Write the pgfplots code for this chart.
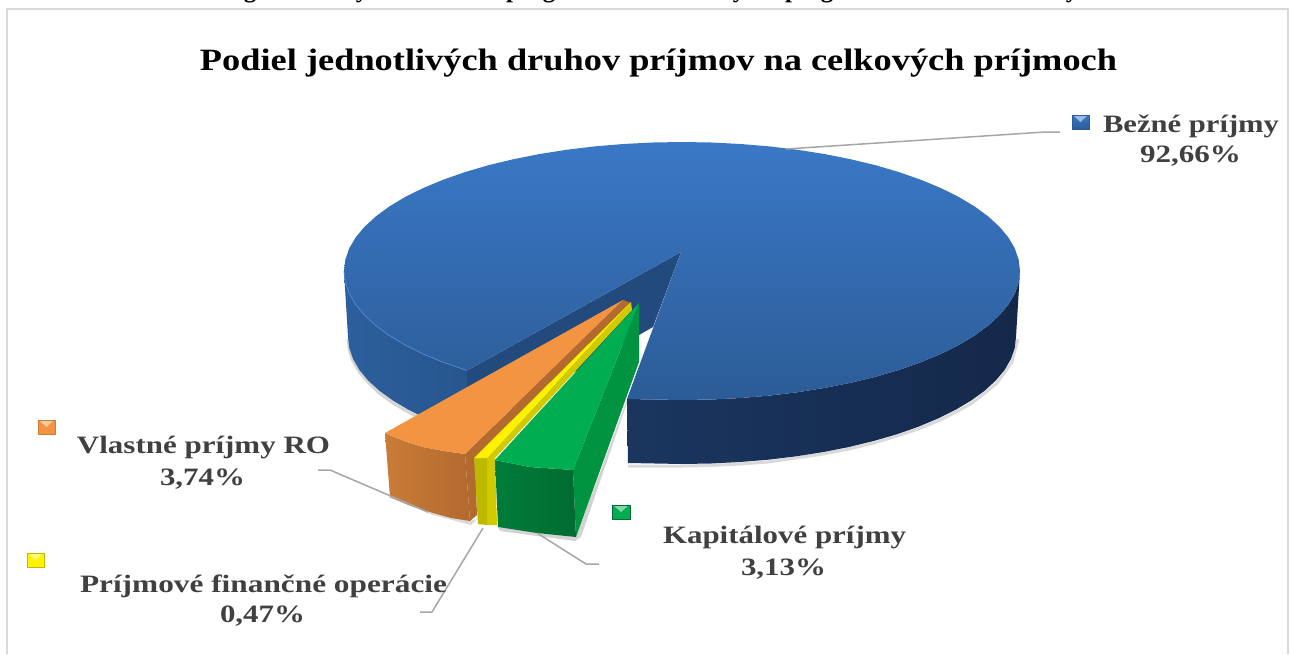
\documentclass[border=0pt]{standalone}
\usepackage{pgfplots}
\pgfplotsset{compat=1.18}
\usepackage{fontspec}
\setmainfont{Liberation Serif}
\definecolor{txt}{HTML}{404040}
\definecolor{lead}{HTML}{A6A6A6}
\definecolor{blue1}{HTML}{2C5F9C}
\definecolor{blue2}{HTML}{28568E}
\definecolor{blue3}{HTML}{1A365F}
\definecolor{blue4}{HTML}{14284A}
\definecolor{blue5}{HTML}{234A7C}
\definecolor{blue6}{HTML}{3A78C6}
\definecolor{blue7}{HTML}{2C5C97}
\definecolor{blue8}{HTML}{4A86D0}
\definecolor{or1}{HTML}{C97C38}
\definecolor{or2}{HTML}{B36A2E}
\definecolor{or3}{HTML}{F29442}
\definecolor{ye2}{HTML}{BDB800}
\definecolor{ye3}{HTML}{D2CA00}
\definecolor{gr1}{HTML}{007D3A}
\definecolor{gr2}{HTML}{006B30}
\definecolor{gr3}{HTML}{009440}
\definecolor{gr4}{HTML}{00AD50}
\newcommand{\lbl}[4]{\node[anchor=base,inner sep=0pt,text=txt] at (axis cs:#1,#2) {\resizebox{#3pt}{\height}{\fontsize{25}{30}\selectfont\bfseries #4}};}
\begin{document}
\begin{tikzpicture}
\useasboundingbox (0,0) rectangle (1290pt,654pt);
\begin{axis}[at={(0,0)},anchor=south west,width=1290pt,height=654pt,scale only axis,hide axis,
  xmin=0,xmax=1290,ymin=0,ymax=654,y dir=reverse,clip=false,no markers,line join=round]
% frame
\addplot[color=black!15,line width=2pt,line join=miter] coordinates {(7,654)(7,9)(1288,9)(1288,654)};
% shadows
\addplot[color=gray,opacity=.35,line width=3pt] coordinates {(348,339)(349.3,350)(353,361)(359.4,372)(368,382)(379.3,393)(393,403)(408.4,412)(426,421)};
\addplot[color=gray,opacity=.3,line width=3pt] coordinates {(628,466)(682,466)(711,465.5)(740,464)(768,462)(796,458)(823,454)(849,449)(874,443)(897,436)(918,429)(938,421)(956,412)(972,403)(985,393)(997,383)(1005,372)(1012,362)(1015,350)(1018,339)};
\addplot[draw=none,fill=gray,opacity=.35] coordinates {(641,362)(581,537)(575,541)(500,531)(498,527)(576,537)} -- cycle;
\addplot[draw=none,fill=gray,opacity=.3] coordinates {(388,497)(433,515)(471,525)(477,519)(470,521)(433,513)(390,497)} -- cycle;
% blue left wall
\addplot[draw=none,left color=blue1,right color=blue2] coordinates {(344,271)(345.3,282.2)(349.1,293.4)(355.5,304.4)(364.4,315.1)(375.7,325.5)(389.3,335.5)(405.1,345)(423.1,353.9)(443,362.2)(467,370.5)(467,434.3)(445.8,426.8)(426.2,418.6)(408.4,409.8)(392.8,400.5)(379.3,390.7)(368.1,380.4)(359.4,369.9)(353.1,359)(349.3,348.1)(348,337)} -- cycle;
% blue right wall
\addplot[draw=none,left color=blue3,right color=blue4] coordinates {(627,399)(682,400)(711.5,399.5)(740.7,398)(769.5,395.6)(797.6,392.2)(824.8,387.9)(851,382.7)(875.9,376.7)(899.3,369.8)(921,362.2)(940.9,353.9)(958.9,345)(974.7,335.5)(988.3,325.5)(999.6,315.1)(1008.5,304.4)(1014.9,293.4)(1018.7,282.2)(1020,271)(1016,337)(1014.7,348.1)(1010.9,359)(1004.6,369.9)(995.9,380.4)(984.7,390.7)(971.2,400.5)(955.6,409.8)(937.8,418.6)(918.2,426.8)(896.7,434.3)(873.6,441)(849,447)(823.2,452.1)(796.2,456.3)(768.4,459.7)(740,462)(711.1,463.5)(682,464)(628,463)} -- cycle;
% inner wall
\addplot[draw=none,fill=blue5] coordinates {(681,252)(467,370.5)(467,434)(653,327)} -- cycle;
% blue top
\addplot[draw=none,top color=blue6,bottom color=blue7] coordinates {(681,252)(627,399)(682,400)(711.5,399.5)(740.7,398)(769.5,395.6)(797.6,392.2)(824.8,387.9)(851,382.7)(875.9,376.7)(899.3,369.8)(921,362.2)(940.9,353.9)(958.9,345)(974.7,335.5)(988.3,325.5)(999.6,315.1)(1008.5,304.4)(1014.9,293.4)(1018.7,282.2)(1020,271)(1018.7,259.8)(1014.9,248.6)(1008.5,237.6)(999.6,226.9)(988.3,216.5)(974.7,206.5)(958.9,197)(940.9,188.1)(921,179.8)(899.3,172.2)(875.9,165.3)(851,159.3)(824.8,154.1)(797.6,149.8)(769.5,146.4)(740.7,144)(711.5,142.5)(682,142)(652.5,142.5)(623.3,144)(594.5,146.4)(566.4,149.8)(539.2,154.1)(513,159.3)(488.1,165.3)(464.7,172.2)(443,179.8)(423.1,188.1)(405.1,197)(389.3,206.5)(375.7,216.5)(364.4,226.9)(355.5,237.6)(349.1,248.6)(345.3,259.8)(344,271)(345.3,282.2)(349.1,293.4)(355.5,304.4)(364.4,315.1)(375.7,325.5)(389.3,335.5)(405.1,345)(423.1,353.9)(443,362.2)(467,370.5)} -- cycle;
\addplot[color=blue8,line width=.8pt] coordinates {(344,271)(345.3,282.2)(349.1,293.4)(355.5,304.4)(364.4,315.1)(375.7,325.5)(389.3,335.5)(405.1,345)(423.1,353.9)(443,362.2)(467,370.5)};
% orange
\addplot[draw=none,left color=or1,right color=or2] coordinates {(385,433)(404,441)(423,447)(444,451)(465,454)(470,521)(451,518)(433,513)(411,506)(390,497)} -- cycle;
\addplot[draw=none,fill=or2] coordinates {(623,300)(631,303)(475,458)(477,515)(470,521)(465,454)} -- cycle;
\addplot[draw=none,fill=or3] coordinates {(623,300)(385,433)(404,441)(423,447)(444,451)(465,454)} -- cycle;
% yellow
\addplot[draw=none,fill=ye3] coordinates {(631,302)(632,310)(495,458)(497,525)(487,525)(487,458)} -- cycle;
\addplot[draw=none,fill=ye2] coordinates {(474,458)(487,458)(487,525)(478,524)} -- cycle;
\addplot[draw=none,fill=yellow] coordinates {(631,302)(487,458)(474,458)} -- cycle;
% green
\addplot[draw=none,fill=gr3] coordinates {(639,303)(639,362)(576,537)(573,470)} -- cycle;
\addplot[draw=none,left color=gr1,right color=gr2] coordinates {(495,460)(530,467)(573,470)(576,537)(537,533)(498,527)} -- cycle;
\addplot[draw=none,fill=gr4] coordinates {(639,303)(495,460)(530,467)(573,470)} -- cycle;
% leader lines
\addplot[color=lead,line width=1.5pt] coordinates {(786,149)(1045,132)(1060,132)};
\addplot[color=lead,line width=1.5pt] coordinates {(318,470)(330,470)(428,512)};
\addplot[color=lead,line width=1.5pt] coordinates {(420,612)(432,612)(483,528)};
\addplot[color=lead,line width=1.5pt] coordinates {(599,564)(586,564)(537,533)};
% legend keys
\addplot[draw=blue7,line width=.5pt,top color=blue6,bottom color=blue7] coordinates {(1072,115)(1089,115)(1089,129)(1072,129)} -- cycle;
\addplot[draw=none,fill=blue6!50!white] coordinates {(1074,116)(1087,116)(1080.5,122)} -- cycle;
\addplot[draw=or1,line width=.5pt,fill=or3] coordinates {(38,420)(55,420)(55,434)(38,434)} -- cycle;
\addplot[draw=none,fill=or3!50!white] coordinates {(40,421)(53,421)(46.5,427)} -- cycle;
\addplot[draw=ye2,line width=.5pt,fill=yellow] coordinates {(27,553)(44,553)(44,567)(27,567)} -- cycle;
\addplot[draw=none,fill=yellow!50!white] coordinates {(29,554)(42,554)(35.5,560)} -- cycle;
\addplot[draw=gr2,line width=.5pt,fill=gr4] coordinates {(612,505)(630,505)(630,519)(612,519)} -- cycle;
\addplot[draw=none,fill=gr4!50!white] coordinates {(614,506)(628,506)(621,512)} -- cycle;
% title
\node[anchor=base,inner sep=0pt,text=black] at (axis cs:658.5,70) {\resizebox{917pt}{\height}{\fontsize{31}{36}\selectfont\bfseries Podiel jednotlivých druhov príjmov na celkových príjmoch}};
% labels
\lbl{1191}{132}{176}{Bežné príjmy}
\lbl{1190.5}{162}{101}{92,66\%}
\lbl{203.5}{453}{253}{Vlastné príjmy RO}
\lbl{202.5}{485}{85}{3,74\%}
\lbl{263.5}{592}{367}{Príjmové finančné operácie}
\lbl{262.5}{622}{85}{0,47\%}
\lbl{784.5}{543}{243}{Kapitálové príjmy}
\lbl{783.5}{575}{85}{3,13\%}
% the line of text that the reference's top edge cuts off: only its descenders show
\pgfplotsinvokeforeach{250,549,827}{\node[anchor=base,inner sep=0pt] at (axis cs:#1,-2.5) {\fontsize{25}{30}\selectfont\bfseries g};}
\pgfplotsinvokeforeach{362,739,1072}{\node[anchor=base,inner sep=0pt] at (axis cs:#1,-2.5) {\fontsize{25}{30}\selectfont\bfseries y};}
\pgfplotsinvokeforeach{513,792}{\node[anchor=base,inner sep=0pt] at (axis cs:#1,-2.5) {\fontsize{25}{30}\selectfont\bfseries p};}
\end{axis}
\end{tikzpicture}
\end{document}
